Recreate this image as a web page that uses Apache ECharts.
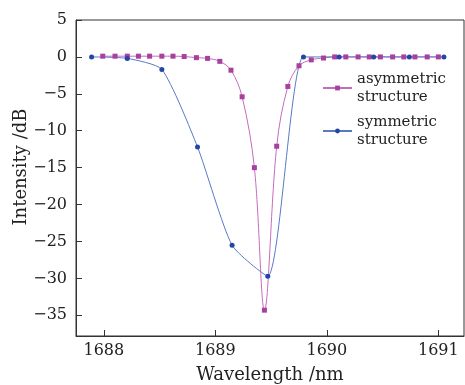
<!DOCTYPE html>
<html>
<head>
<meta charset="utf-8">
<script src="https://cdn.jsdelivr.net/npm/echarts@6/dist/echarts.min.js"></script>
<style>
  html, body { margin: 0; padding: 0; background: #fff; }
  #chart { width: 465px; height: 385px; }
</style>
</head>
<body>
<div id="chart"></div>
<script>
// values
const asymX = [1687.99, 1688.10, 1688.21, 1688.31, 1688.41, 1688.52, 1688.62, 1688.72, 1688.83, 1688.93,
               1689.04, 1689.14, 1689.24, 1689.35, 1689.44, 1689.55, 1689.65, 1689.75, 1689.86, 1689.97,
               1690.07, 1690.17, 1690.28, 1690.38, 1690.48, 1690.59, 1690.69, 1690.79, 1690.90, 1691.00];
const asymY = [0.1, 0.1, 0.1, 0.1, 0.1, 0.1, 0.1, 0.05, -0.1, -0.2,
               -0.6, -1.8, -5.4, -15.0, -34.3, -12.1, -4.0, -1.2, -0.4, -0.15,
               0, 0, 0, 0, 0, 0, 0, 0, 0, 0];
const symX = [1687.89, 1688.21, 1688.52, 1688.84, 1689.15, 1689.47, 1689.79, 1690.11, 1690.42, 1690.74, 1691.05];
const symY = [0, -0.2, -1.7, -12.2, -25.5, -29.7, 0, 0, 0, 0, 0];
const xTicks = [1688, 1689, 1690, 1691];
const yTicks = [5, 0, -5, -10, -15, -20, -25, -30, -35];

const FONT = 'DejaVu Serif';

function pairs(xs, ys) {
    return xs.map(function(x, i) { return [x, ys[i]]; });
}

let chart = echarts.init(document.getElementById('chart'));

let legendText = { fontFamily: FONT, fontSize: 15, lineHeight: 18, color: '#222', padding: [18, 0, 0, 0] };

let options = {
    animation: false,
    grid: {
        left: 76, right: 1, top: 20, bottom: 49,
        outerBoundsMode: 'none', containLabel: false,
        show: true, borderColor: '#333', borderWidth: 1
    },
    xAxis: {
        type: 'value',
        min: 1687.75,
        max: 1691.23,
        name: 'Wavelength /nm',
        nameLocation: 'middle',
        nameGap: 30,
        nameMoveOverlap: false,
        nameTextStyle: { fontFamily: FONT, fontSize: 18, color: '#222' },
        splitLine: { show: false },
        axisLine: { onZero: false, lineStyle: { color: '#333', width: 1 } },
        axisTick: { inside: true, length: 6, customValues: xTicks, lineStyle: { color: '#333' } },
        axisLabel: {
            customValues: xTicks, margin: 7, fontFamily: FONT, fontSize: 16, color: '#222',
            formatter: function(v) { return String(v); }
        }
    },
    yAxis: {
        type: 'value',
        min: -37.8,
        max: 5,
        name: 'Intensity /dB',
        nameLocation: 'middle',
        nameGap: 46,
        nameMoveOverlap: false,
        nameTextStyle: { fontFamily: FONT, fontSize: 18, color: '#222', padding: [0, 0, 0, 22] },
        splitLine: { show: false },
        axisLine: { onZero: false, lineStyle: { color: '#333', width: 1 } },
        axisTick: { inside: true, length: 6, customValues: yTicks, lineStyle: { color: '#333' } },
        axisLabel: {
            customValues: yTicks, margin: 9, fontFamily: FONT, fontSize: 16, color: '#222',
            formatter: function(v) { return String(v).replace('-', '\u2212'); }
        }
    },
    legend: [
        {
            data: ['asymmetric\nstructure'],
            left: 322, top: 61, padding: 0,
            itemWidth: 29, itemHeight: 6,
            textStyle: legendText
        },
        {
            data: ['symmetric\nstructure'],
            left: 322, top: 104, padding: 0,
            itemWidth: 29, itemHeight: 6,
            textStyle: legendText
        }
    ],
    series: [
        {
            name: 'asymmetric\nstructure',
            type: 'line',
            smooth: 0.35,
            data: pairs(asymX, asymY),
            symbol: 'rect',
            symbolSize: 5,
            lineStyle: { color: '#c46cbc', width: 1 },
            itemStyle: { color: '#a8409e' }
        },
        {
            name: 'symmetric\nstructure',
            type: 'line',
            smooth: 0.2,
            data: pairs(symX, symY),
            symbol: 'circle',
            symbolSize: 5,
            lineStyle: { color: '#5a78c4', width: 1 },
            itemStyle: { color: '#2346a6' }
        }
    ]
};

chart.setOption(options);
</script>
</body>
</html>
